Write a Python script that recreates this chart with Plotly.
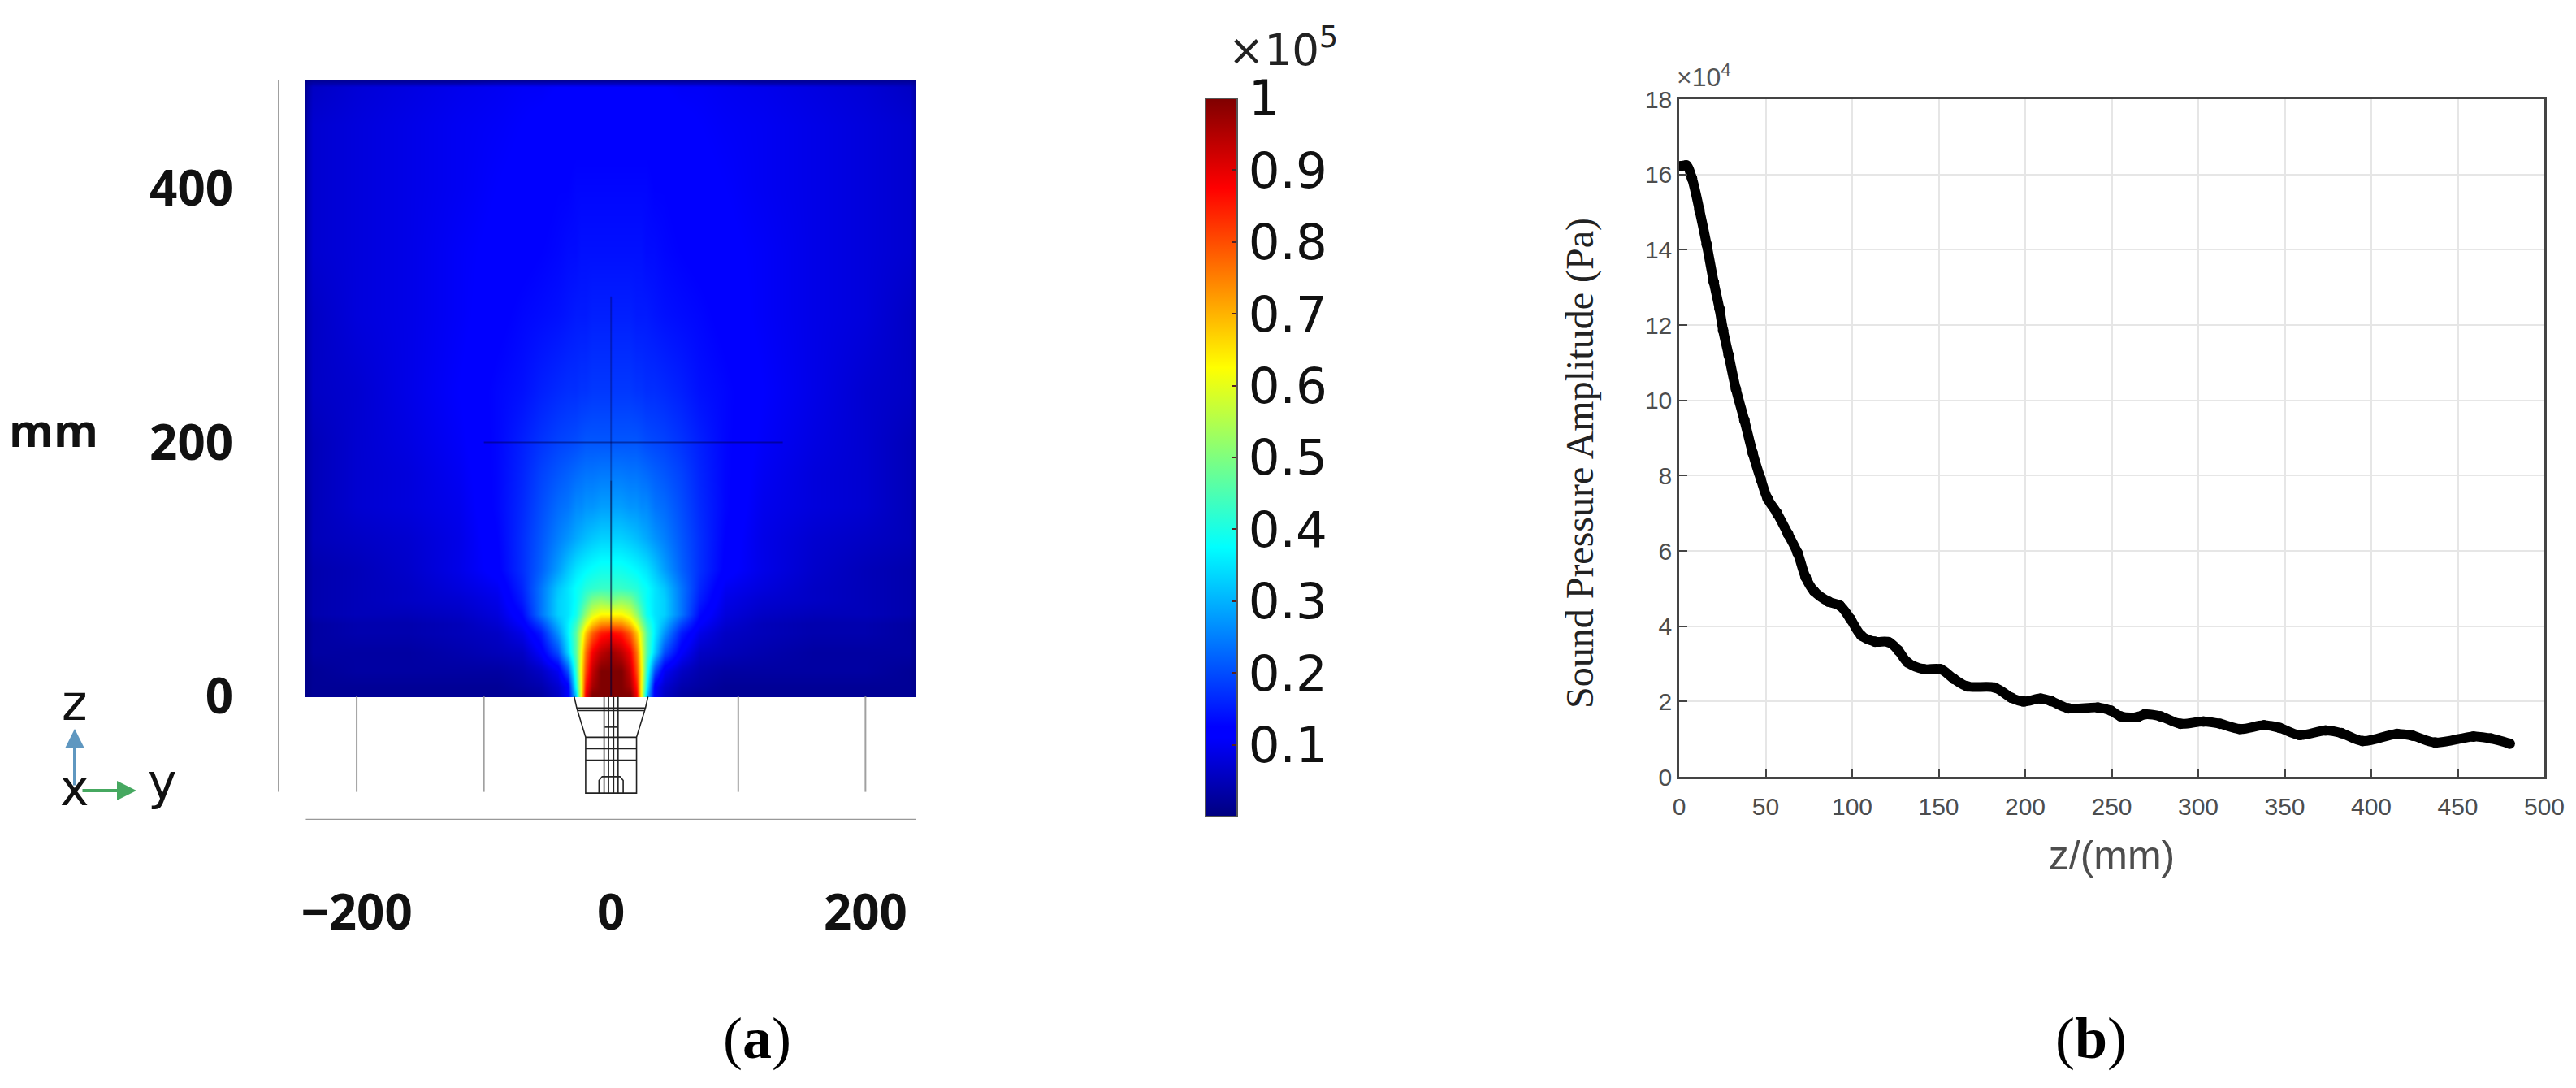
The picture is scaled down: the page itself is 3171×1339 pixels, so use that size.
import plotly.graph_objects as go

W, H = 3171, 1339

# field map, half of the section (mirrored about y=0), values in 1e5 Pa
y_half = [0, 8, 15, 20, 24, 28, 34, 42, 55, 70, 90, 120, 160, 200, 235, 239, 240]
z_levels = [0, 1, 8, 20, 35, 50, 57, 65, 76, 85, 100, 125, 150, 175, 200, 240, 300, 350, 400, 450, 480, 484, 485]
row_000 = [1.0, 1.0, 1.0, .88, .60, .32, .11, .06, .03, .02, .02, .02, .02, .02, .02, .01, .01]
row_001 = [1.0, 1.0, 1.0, .88, .60, .32, .11, .06, .03, .02, .02, .02, .02, .02, .02, .01, .01]
row_008 = [1.0, 1.0, .96, .85, .60, .38, .11, .07, .04, .03, .02, .02, .02, .02, .02, .01, .01]
row_020 = [1.0, 1.0, .93, .80, .62, .42, .20, .10, .06, .04, .03, .03, .03, .03, .02, .01, .01]
row_035 = [.97, .94, .88, .76, .60, .46, .33, .20, .11, .06, .05, .04, .03, .03, .03, .01, .01]
row_050 = [.87, .85, .78, .68, .57, .46, .36, .27, .15, .09, .06, .05, .04, .04, .03, .01, .01]
row_057 = [.75, .74, .68, .60, .51, .43, .36, .30, .19, .11, .07, .05, .04, .04, .03, .01, .01]
row_065 = [.63, .63, .59, .52, .45, .39, .35, .33, .24, .13, .08, .06, .05, .05, .04, .02, .01]
row_076 = [.50, .52, .50, .45, .41, .38, .35, .33, .24, .15, .09, .07, .06, .05, .04, .02, .01]
row_085 = [.43, .43, .42, .41, .39, .38, .35, .32, .24, .16, .10, .08, .06, .05, .04, .02, .01]
row_100 = [.39, .39, .38, .37, .36, .35, .32, .28, .22, .17, .12, .09, .065, .05, .04, .02, .01]
row_125 = [.33, .33, .32, .31, .30, .29, .27, .25, .21, .17, .125, .09, .07, .06, .05, .02, .01]
row_150 = [.28, .28, .27, .27, .26, .26, .24, .23, .20, .165, .13, .095, .08, .07, .05, .02, .01]
row_175 = [.245, .245, .24, .24, .235, .23, .22, .21, .19, .16, .13, .10, .08, .07, .05, .03, .02]
row_200 = [.21, .21, .21, .21, .205, .20, .195, .19, .175, .155, .13, .105, .085, .07, .05, .03, .02]
row_240 = [.18, .18, .18, .175, .175, .17, .17, .165, .155, .14, .13, .11, .09, .07, .06, .03, .02]
row_300 = [.155, .155, .155, .15, .15, .15, .145, .14, .135, .13, .12, .105, .09, .08, .06, .04, .02]
row_350 = [.14, .14, .14, .14, .14, .135, .135, .13, .125, .12, .115, .105, .09, .08, .07, .04, .02]
row_400 = [.13, .13, .13, .13, .13, .13, .125, .125, .12, .115, .11, .10, .09, .08, .07, .04, .02]
row_450 = [.12, .12, .12, .12, .12, .12, .12, .12, .115, .11, .105, .10, .09, .08, .07, .04, .02]
row_480 = [.11, .11, .11, .11, .11, .11, .11, .11, .105, .105, .10, .095, .085, .075, .06, .03, .02]
row_484 = [.04, .04, .04, .04, .04, .04, .04, .04, .04, .04, .04, .03, .03, .03, .03, .02, .01]
row_485 = [.02, .02, .02, .02, .02, .02, .02, .02, .02, .02, .02, .02, .02, .02, .02, .01, .01]
field_rows = [row_000, row_001, row_008, row_020, row_035, row_050, row_057, row_065, row_076, row_085, row_100,
              row_125, row_150, row_175, row_200, row_240, row_300, row_350, row_400, row_450, row_480,
              row_484, row_485]

bar_ticks = [.1, .2, .3, .4, .5, .6, .7, .8, .9, 1]
bar_labels = ["0.1", "0.2", "0.3", "0.4", "0.5", "0.6", "0.7", "0.8", "0.9", "1"]

# transducer wireframe in (y, z) mm, None breaks the line
horn_y = [-29, -27, -20, -20, 20, 20, 27, 29, None, -27, 27, None, -26, 26, None, -20, 20, None, -20, 20, None, -20, 20,
          None, -5.5, -5.5, None, 5.5, 5.5, None, -2, -2, None, 2, 2, None, -5, 5, None, -9.5, -9.5, -7, 7, 9.5, 9.5]
horn_z = [0, -9, -32, -76, -76, -32, -9, 0, None, -9, -9, None, -11, -11, None, -32, -32, None, -41, -41, None, -50, -50,
          None, 0, -76, None, 0, -76, None, 0, -76, None, 0, -76, None, -24, -24, None, -76, -66, -63, -63, -66, -76]

# section frame lines
rule_ticks = [-200, -100, 100, 200]

# on-axis sound pressure amplitude
z_mm = [1, 4.2, 7.4, 11.7, 15.9, 20, 23.3, 25.4, 28.6, 32.8, 37.7, 42.5, 47.2, 51.1, 56.6, 62.9, 68.4, 73.1, 77.8,
        86.5, 92.8, 99, 105.3, 113.2, 121, 126.6, 132, 141.5, 151, 158.8, 166.7, 182.4, 192, 199, 209, 215, 225,
        242, 249.4, 255, 265, 269, 278, 289.7, 303, 312.6, 324, 338, 347, 358.6, 373.6, 382.8, 395, 415, 424,
        437, 459, 469, 480]
amp = [16.22, 16.24, 15.9, 15.06, 14.14, 13.14, 12.43, 11.86, 11.2, 10.3, 9.47, 8.6, 7.9, 7.39, 7.0, 6.45, 5.95, 5.3,
       4.94, 4.65, 4.55, 4.19, 3.75, 3.59, 3.58, 3.36, 3.04, 2.86, 2.86, 2.6, 2.4, 2.37, 2.1, 2.0, 2.08, 2.01, 1.82,
       1.84, 1.76, 1.61, 1.59, 1.66, 1.61, 1.41, 1.47, 1.41, 1.27, 1.37, 1.30, 1.11, 1.23, 1.16, .95, 1.14, 1.09,
       .91, 1.07, 1.02, .88]

jet = [[0, "#00007f"], [.11, "#0000ff"], [.125, "#0000ff"], [.375, "#00ffff"], [.5, "#7fff7f"],
       [.625, "#ffff00"], [.875, "#ff0000"], [1, "#7f0000"]]


def fx(px):
    return px / W


def fy(py):
    return 1 - py / H


def add_line(xs, ys, color, width):
    fig.add_trace(go.Scatter(x=xs, y=ys, mode="lines", line=dict(color=color, width=width),
                             showlegend=False, hoverinfo="skip"))


y_full = [-v for v in y_half[:0:-1]] + y_half
z_full = [r[:0:-1] + r for r in field_rows]

fig = go.Figure()
fig.add_trace(go.Heatmap(
    x=y_full, y=z_levels, z=z_full, zmin=0, zmax=1, zsmooth="best", colorscale=jet, hoverinfo="skip",
    colorbar=dict(
        x=fx(1484), xanchor="left", xref="paper", xpad=0, thickness=39, thicknessmode="pixels",
        y=fy(121), yanchor="top", yref="paper", ypad=0, len=884 / H, lenmode="fraction",
        tickvals=bar_ticks, ticktext=bar_labels, ticks="inside", ticklen=7, tickcolor="#552222", tickwidth=2,
        outlinecolor="#555555", outlinewidth=2,
        tickfont=dict(family="DejaVu Sans", size=61, color="#111111"),
    ),
))
# mesh lines over the field
add_line([0, 0], [0, 170], "rgba(0,0,50,0.6)", 2)
add_line([0, 0], [170, 315], "rgba(0,0,70,0.35)", 2)
add_line([-100, 135], [200, 200], "rgba(0,0,70,0.45)", 2)
for t in rule_ticks:
    add_line([t, t], [0, -75], "#a0a0a0", 2)
add_line([-262, -262], [-75, 485], "#a0a0a0", 2.5)
add_line([-240, 240], [-97, -97], "#999999", 2.5)
add_line(horn_y, horn_z, "#222222", 1.6)

fig.add_trace(go.Scatter(x=z_mm, y=amp, xaxis="x2", yaxis="y2", mode="lines+markers",
                         line=dict(color="black", width=12, shape="spline", smoothing=1.0),
                         marker=dict(color="black", size=13), showlegend=False))

bold = dict(family="Open Sans", size=60, color="#111111", weight="bold")
annotations = [
    dict(x=fx(66), y=fy(528), text="<b>mm</b>", font=dict(family="Open Sans", size=56, color="#111111")),
    dict(x=fx(1579), y=fy(58), text="×10<sup>5</sup>", font=dict(family="DejaVu Sans", size=53, color="#222222")),
    dict(x=fx(92), y=fy(865), text="z", font=dict(family="DejaVu Sans", size=60, color="#111111")),
    dict(x=fx(92), y=fy(970), text="x", font=dict(family="DejaVu Sans", size=60, color="#111111")),
    dict(x=fx(200), y=fy(962), text="y", font=dict(family="DejaVu Sans", size=60, color="#111111")),
    dict(x=fx(2097), y=fy(93), text="×10<sup>4</sup>", font=dict(family="Liberation Sans", size=32, color="#555555")),
    dict(x=fx(1945), y=fy(570), text="Sound Pressure Amplitude (Pa)", textangle=-90,
         font=dict(family="Liberation Serif", size=48, color="#222222")),
    dict(x=fx(932), y=fy(1278), text="(<b>a</b>)", font=dict(family="Liberation Serif", size=72, color="black")),
    dict(x=fx(2574), y=fy(1278), text="(<b>b</b>)", font=dict(family="Liberation Serif", size=72, color="black")),
]
for a in annotations:
    a.update(xref="paper", yref="paper", showarrow=False, xanchor="center", yanchor="middle")
annotations += [
    dict(x=fx(92), y=fy(897), ax=0, ay=71, xref="paper", yref="paper", axref="pixel", ayref="pixel",
         showarrow=True, arrowhead=2, arrowsize=1.2, arrowwidth=4, arrowcolor="#5f97c0", text=""),
    dict(x=fx(168), y=fy(973), ax=-68, ay=0, xref="paper", yref="paper", axref="pixel", ayref="pixel",
         showarrow=True, arrowhead=2, arrowsize=1.2, arrowwidth=4, arrowcolor="#46a860", text=""),
]

gray = "#4d4d4d"
fig.update_layout(
    width=W, height=H, margin=dict(l=0, r=0, t=0, b=0, autoexpand=False), paper_bgcolor="white", plot_bgcolor="white",
    showlegend=False, annotations=annotations,
    xaxis=dict(domain=[fx(342), fx(1128)], range=[-262, 240], showgrid=False, zeroline=False, showline=False,
               automargin=False, tickvals=[-200, 0, 200], ticktext=["−200", "0", "200"], ticks="",
               ticklabelstandoff=74, tickfont=bold),
    yaxis=dict(domain=[fy(1009), fy(99)], range=[-97, 485], showgrid=False, zeroline=False, showline=False,
               automargin=False, tickvals=[0, 200, 400], ticklabelstandoff=54, ticks="", tickfont=bold),
    xaxis2=dict(domain=[fx(2067), fx(3132)], range=[0, 500], anchor="y2", dtick=50, mirror=True, showline=True,
                automargin=False, linecolor="#444444", linewidth=2.5, gridcolor="#e6e6e6", gridwidth=2, zeroline=False,
                ticks="inside", ticklen=10, tickwidth=2, tickcolor="#444444", ticklabelstandoff=8,
                tickfont=dict(family="Liberation Sans", size=30, color=gray),
                title=dict(text="z/(mm)", standoff=28, font=dict(family="Liberation Sans", size=50, color=gray))),
    yaxis2=dict(domain=[fy(956), fy(122)], range=[0, 18], anchor="x2", dtick=2, mirror=True, showline=True,
                automargin=False, linecolor="#444444", linewidth=2.5, gridcolor="#e6e6e6", gridwidth=2, zeroline=False,
                ticks="inside", ticklen=10, tickwidth=2, tickcolor="#444444",
                tickfont=dict(family="Liberation Sans", size=30, color=gray)),
)

fig.write_html("out.html", post_script="document.body.style.margin='0';", config={"displayModeBar": False})
